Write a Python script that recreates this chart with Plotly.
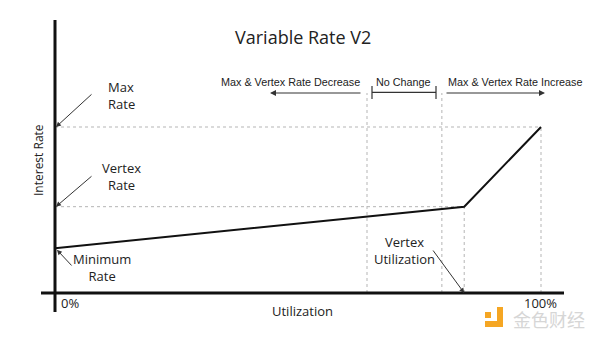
import plotly.graph_objects as go

# ---- data (utilization in %, rate in arbitrary % units) ----
util_points = [0, 84.2, 100]          # 0%, vertex utilization, 100%
rate_points = [27, 52, 100]           # minimum, vertex, max rate
zone_bounds = [64.2, 79.6]            # decrease | no change | increase boundaries
zone_labels = ["Max & Vertex Rate Decrease", "No Change", "Max & Vertex Rate Increase"]
x_tick_labels = ["0%", "100%"]
title_text = "Variable Rate V2"

W, H = 600, 340
# pixel calibration of the drawing
PX0, PXU = 55, 4.86      # pixel of 0% and pixels per % utilization
PY0, PYR = 293, 1.66     # pixel of zero rate and pixels per rate unit
XR = [(0 - PX0) / PXU, (W - PX0) / PXU]
YR = [(PY0 - H) / PYR, PY0 / PYR]

def u(px):
    return (px - PX0) / PXU

def r(py):
    return (PY0 - py) / PYR

u_min, u_v, u_max = util_points
r_min, r_v, r_max = rate_points
band_r = r(93)

fig = go.Figure()

DOT = dict(color="#b5b5b5", width=1, dash="dot")
# guide lines
guides = [
    ([u_min, u_max], [r_max, r_max]),
    ([u_min, u_v], [r_v, r_v]),
    ([u_v, u_v], [0, r_v]),
    ([u_max, u_max], [0, r_max]),
    ([zone_bounds[0], zone_bounds[0]], [0, band_r]),
    ([zone_bounds[1], zone_bounds[1]], [0, band_r]),
]
for gx, gy in guides:
    fig.add_trace(go.Scatter(x=gx, y=gy, mode="lines", line=DOT, hoverinfo="skip", showlegend=False))

# axes
fig.add_trace(go.Scatter(x=[u(41), u(564)], y=[0, 0], mode="lines",
                         line=dict(color="#111", width=3), hoverinfo="skip", showlegend=False))
fig.add_trace(go.Scatter(x=[0, 0], y=[r(20), r(312)], mode="lines",
                         line=dict(color="#111", width=3), hoverinfo="skip", showlegend=False))

# rate curve
fig.add_trace(go.Scatter(x=util_points, y=rate_points, mode="lines",
                         line=dict(color="#111", width=2), hoverinfo="skip", showlegend=False))

# No change bracket
nc_l, nc_r = u(372), u(436)
fig.add_trace(go.Scatter(x=[nc_l, nc_l, None, nc_l, nc_r, None, nc_r, nc_r],
                         y=[r(86), r(99), None, r(92.3), r(92.3), None, r(86), r(99)],
                         mode="lines", line=dict(color="#333", width=1.2),
                         hoverinfo="skip", showlegend=False))

ann = []
TXT = dict(family="Open Sans", size=13, color="#222")
SMALL = dict(family="Liberation Sans, Arial", size=10.8, color="#222")

def label(x, y, text, font=TXT, **kw):
    ann.append(dict(x=x, y=y, xref="x", yref="y", text=text, showarrow=False,
                    font=font, **kw))

def arrow(hx, hy, tx, ty, color="#333", width=1, size=1):
    ann.append(dict(x=hx, y=hy, ax=tx, ay=ty, xref="x", yref="y", axref="x", ayref="y",
                    text="", showarrow=True, arrowhead=2, arrowsize=size,
                    arrowwidth=width, arrowcolor=color))

# title
ann.append(dict(x=u(303), y=r(37), xref="x", yref="y", text=title_text, showarrow=False,
                font=dict(family="Open Sans", size=18, color="#222")))

# zone labels and arrows
label(u(290), r(82), zone_labels[0], SMALL)
label(u(403.5), r(82), zone_labels[1], SMALL)
label(u(515), r(82), zone_labels[2], SMALL)
arrow(u(270), band_r, u(362), band_r, color="#333", width=1.2, size=1)
arrow(u(545), band_r, u(445), band_r, color="#333", width=1.2, size=1)

# point labels
label(u(121), r(95), "Max<br>Rate", align="left")
label(u(121), r(176), "Vertex<br>Rate", align="center")
label(u(102), r(267), "Minimum<br>Rate", align="center")
label(u(404), r(250), "Vertex<br>Utilization", align="center")

arrow(u_min + 0.2, r_max, u(93), r(93))
arrow(u_min + 0.2, r_v, u(93), r(175))
arrow(u_min + 0.4, r_min - 1, u(73), r(267))
arrow(u_v, 0, u(432), r(249))

# axis texts
label(u_min + 3.1, r(303), x_tick_labels[0])
label(u_max - 0.2, r(303), x_tick_labels[1])
label(u(302), r(311), "Utilization")
label(u(38), r(160), "Interest Rate", dict(family="Open Sans", size=12, color="#222"), textangle=-90)

# watermark
ann.append(dict(x=549 / W, y=1 - 319 / H, xref="paper", yref="paper", text="金色财经",
                xanchor="center", yanchor="middle",
                showarrow=False, font=dict(family="Noto Sans CJK SC", size=18, color="#d6d6d6")))
shapes = []
def pbox(x0, y0, x1, y1, color):
    shapes.append(dict(type="rect", xref="paper", yref="paper", x0=x0 / W, x1=x1 / W,
                       y0=1 - y1 / H, y1=1 - y0 / H, fillcolor=color, line=dict(width=0)))
pbox(497, 307, 503, 327, "#f5a623")
pbox(485, 321, 503, 327, "#f5a623")
pbox(485, 312, 491, 318, "#f5a623")

fig.update_layout(
    width=W, height=H, margin=dict(l=0, r=0, t=0, b=0),
    paper_bgcolor="white", plot_bgcolor="white",
    xaxis=dict(range=XR, visible=False, fixedrange=True),
    yaxis=dict(range=YR, visible=False, fixedrange=True),
    annotations=ann, shapes=shapes, showlegend=False,
)
fig.write_html("out.html")
